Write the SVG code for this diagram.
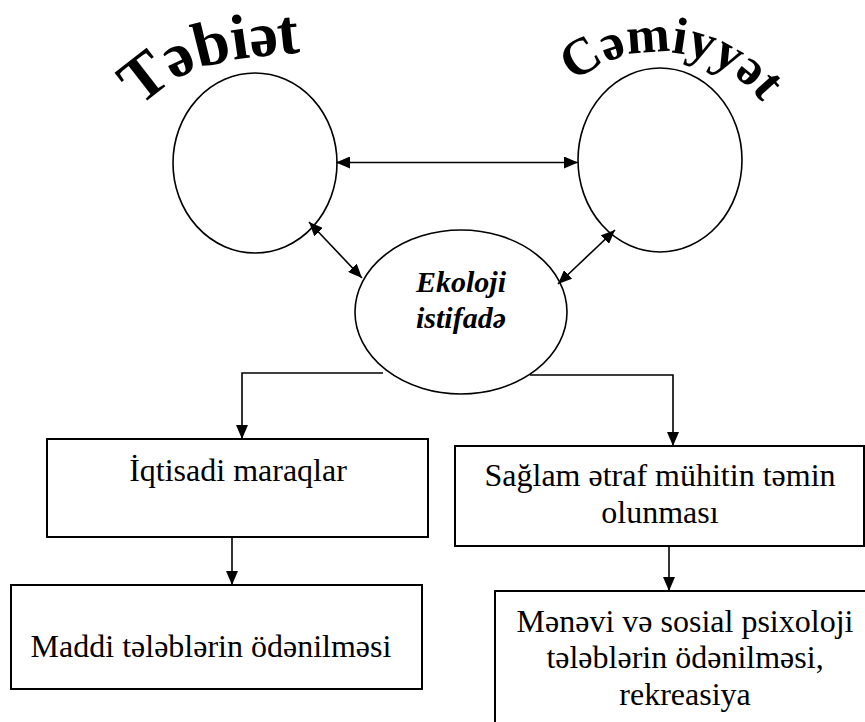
<svg xmlns="http://www.w3.org/2000/svg" width="865" height="722" viewBox="0 0 865 722">
<style>
.shape{fill:#fff;stroke:#000;stroke-width:1.6}
.box{fill:#fff;stroke:#000;stroke-width:2}
.conn{fill:none;stroke:#000;stroke-width:1.6}
.lbl{font-family:'Liberation Serif','Times New Roman',serif;font-size:32px;fill:#000;text-anchor:middle}
.ital{font-family:'Liberation Serif','Times New Roman',serif;font-size:30px;font-weight:bold;font-style:italic;fill:#000;text-anchor:middle}
.arch{font-family:'Liberation Serif','Times New Roman',serif;font-weight:bold;fill:#000}
</style>
<defs>
<marker id="ah" viewBox="0 0 14 12" refX="14" refY="6" markerWidth="14" markerHeight="12" markerUnits="userSpaceOnUse" orient="auto-start-reverse">
<path d="M0,0 L14,6 L0,12 z" fill="#000"/>
</marker>
<path id="arcR" d="M566,90 A131 131 0 0 1 785,148.7"/>
</defs>

<g id="tebiet">
<ellipse class="shape" cx="255" cy="163" rx="82" ry="90"/>
<text class="arch" font-size="64" x="139.5 173.1 198.8 233.3 250.9 279.2" y="106.6 80.3 68.3 59.7 57.2 54.7" rotate="-38 -25 -14 -8 -5 -6">Təbiət</text>
</g>

<g id="cemiyyet">
<ellipse class="shape" cx="660" cy="160" rx="82" ry="92"/>
<text class="arch" font-size="52"><textPath href="#arcR" startOffset="11">Cəmiyyət</textPath></text>
</g>

<g id="ekoloji">
<ellipse class="shape" cx="461" cy="312" rx="106" ry="82"/>
<text class="ital" x="461" y="292">Ekoloji</text>
<text class="ital" x="461" y="328">istifadə</text>
</g>

<g id="iqtisadi">
<rect class="box" x="47" y="439" width="381" height="98"/>
<text class="lbl" x="238" y="481">İqtisadi maraqlar</text>
</g>

<g id="saglam">
<rect class="box" x="455" y="446" width="409" height="100"/>
<text class="lbl" x="660" y="486">Sağlam ətraf mühitin təmin</text>
<text class="lbl" x="660" y="523">olunması</text>
</g>

<g id="maddi">
<rect class="box" x="11" y="585" width="411" height="104"/>
<text class="lbl" x="211" y="657">Maddi tələblərin ödənilməsi</text>
</g>

<g id="menevi">
<rect class="box" x="495" y="591" width="400" height="160"/>
<text class="lbl" x="685" y="632">Mənəvi və sosial psixoloji</text>
<text class="lbl" x="685" y="668">tələblərin ödənilməsi,</text>
<text class="lbl" x="685" y="705">rekreasiya</text>
</g>

<g id="connectors">
<line class="conn" x1="336" y1="162.5" x2="578" y2="162.5" marker-start="url(#ah)" marker-end="url(#ah)"/>
<line class="conn" x1="309" y1="222" x2="362" y2="278" marker-start="url(#ah)" marker-end="url(#ah)"/>
<line class="conn" x1="615" y1="230" x2="558" y2="284" marker-start="url(#ah)" marker-end="url(#ah)"/>
<polyline class="conn" points="383,373 242,373 242,439" marker-end="url(#ah)"/>
<polyline class="conn" points="530,375 673,375 673,446" marker-end="url(#ah)"/>
<line class="conn" x1="232" y1="537" x2="232" y2="585" marker-end="url(#ah)"/>
<line class="conn" x1="669" y1="546" x2="669" y2="591" marker-end="url(#ah)"/>
</g>
</svg>
